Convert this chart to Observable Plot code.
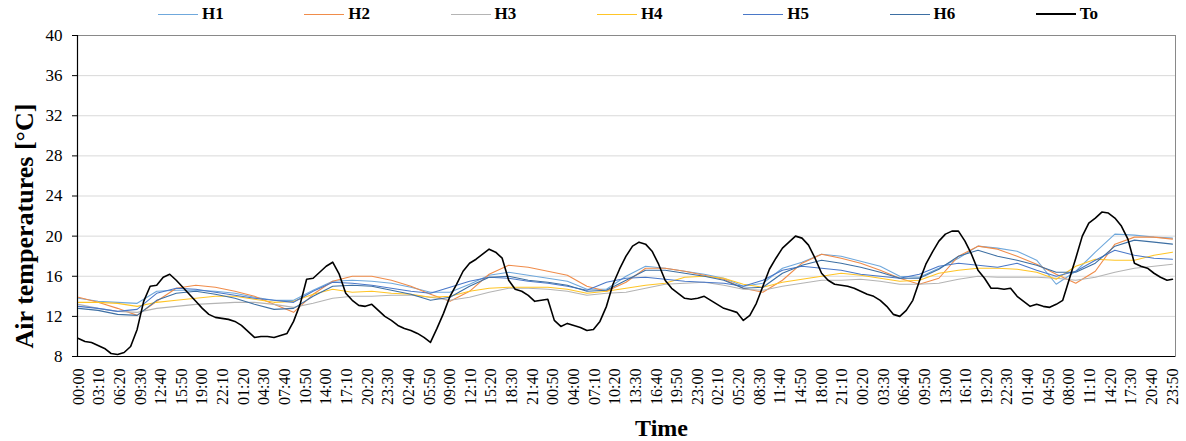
<!DOCTYPE html>
<html>
<head>
<meta charset="utf-8">
<script src="https://cdn.jsdelivr.net/npm/d3@7"></script>
<script src="https://cdn.jsdelivr.net/npm/@observablehq/plot@0.6"></script>
<style>
  html, body { margin: 0; padding: 0; background: #fff; }
  #wrap { width: 1186px; height: 441px; position: relative; font-family: "Liberation Serif", "Times New Roman", serif; }
  #legend { position: relative; height: 28px; width: 1186px; }
  .item { position: absolute; top: 0; height: 28px; display: flex; align-items: center; font-weight: bold; font-size: 17px; color: #000; }
  .item span.sw { display: inline-block; width: 40px; height: 0; margin-right: 4px; }
</style>
</head>
<body>
<div id="wrap">
  <div id="legend"></div>
  <div id="chart"></div>
</div>
<script>
// ---- data ----
const seriesNames = ["H1", "H2", "H3", "H4", "H5", "H6", "To"];
const seriesColors = ["#6FA8DC", "#F08C4A", "#B4B4B4", "#FFC526", "#4A78C8", "#3D6FA3", "#000000"];

const timeLabels = ["00:00","03:10","06:20","09:30","12:40","15:50","19:00","22:10","01:20","04:30","07:40","10:50","14:00","17:10","20:20","23:30","02:40","05:50","09:00","12:10","15:20","18:30","21:40","00:50","04:00","07:10","10:20","13:30","16:40","19:50","23:00","02:10","05:20","08:30","11:40","14:50","18:00","21:10","00:20","03:30","06:40","09:50","13:00","16:10","19:20","22:30","01:40","04:50","08:00","11:10","14:20","17:30","20:40","23:50"];

const yTicks = [8, 12, 16, 20, 24, 28, 32, 36, 40];

// Outdoor temperature, hourly readings (10-min samples, every 6th)
const To = [9.8,9.5,9.4,9.1,8.8,8.3,8.2,8.4,9.0,10.7,13.5,15.0,15.1,15.9,16.2,15.6,14.9,14.2,13.5,12.8,12.2,11.9,11.8,11.7,
11.5,11.1,10.5,9.9,10.0,10.0,9.9,10.1,10.3,11.5,13.2,15.7,15.8,16.4,17.0,17.4,16.2,14.3,13.6,13.1,13.0,13.2,12.6,12.0,
11.6,11.1,10.8,10.6,10.3,9.9,9.4,10.8,12.3,14.0,15.2,16.5,17.3,17.7,18.2,18.7,18.4,17.8,15.6,14.7,14.5,14.1,13.5,13.6,
13.7,11.6,11.0,11.3,11.1,10.9,10.6,10.7,11.5,13.0,15.2,16.7,18.0,19.0,19.4,19.2,18.5,17.2,15.6,14.8,14.3,13.8,13.7,13.8,
14.0,13.6,13.2,12.8,12.6,12.4,11.6,12.1,13.3,15.0,16.7,17.8,18.8,19.4,20.0,19.8,19.1,17.8,16.3,15.6,15.2,15.1,15.0,14.8,
14.5,14.2,14.0,13.6,13.0,12.2,12.0,12.6,13.6,15.5,17.2,18.4,19.5,20.2,20.5,20.5,19.5,18.2,16.6,15.8,14.8,14.8,14.7,14.8,
14.0,13.5,13.0,13.2,13.0,12.9,13.2,13.6,15.7,17.8,20.0,21.3,21.8,22.4,22.3,21.8,21.0,19.7,17.3,17.0,16.8,16.3,15.9,15.6,
15.7];

// Indoor series, 3-hourly readings (every 18th sample)
const H1 = [13.8,13.5,13.4,13.3,14.5,14.6,14.6,14.5,14.3,13.9,13.6,13.6,14.6,15.5,15.6,15.5,15.3,14.9,14.4,14.4,15.2,16.1,16.4,16.1,15.8,15.5,14.7,14.7,16.0,17.0,16.8,16.5,16.2,15.8,15.0,15.3,16.8,17.4,18.2,18.0,17.5,17.0,16.0,15.9,16.8,17.8,19.0,18.8,18.5,17.6,15.2,16.5,18.4,20.2,20.1,19.9,19.8];
const H2 = [13.9,13.4,12.8,12.1,13.5,14.8,15.1,14.9,14.5,14.0,13.2,12.4,14.2,15.5,16.0,16.0,15.6,15.0,14.2,13.5,14.5,16.2,17.1,16.9,16.5,16.1,15.0,14.5,15.4,16.8,16.8,16.5,16.1,15.7,14.8,14.4,15.6,17.3,18.2,17.8,17.3,16.6,15.8,15.2,15.8,18.0,19.0,18.7,18.0,17.2,16.2,15.3,16.5,19.2,19.9,19.9,19.7];
const H3 = [13.2,12.8,12.5,12.4,12.8,13.0,13.2,13.3,13.4,13.4,13.2,12.9,13.3,13.8,14.0,14.0,14.1,14.1,13.9,13.6,13.9,14.4,14.8,14.8,14.7,14.5,14.1,14.3,14.4,14.8,15.2,15.3,15.4,15.1,14.7,14.6,15.0,15.3,15.6,15.6,15.7,15.5,15.2,15.2,15.3,15.7,16.0,15.9,15.9,15.9,15.8,15.6,15.9,16.4,16.8,17.0,17.2];
const H4 = [13.4,13.4,13.3,13.0,13.4,13.6,13.8,14.0,14.0,13.7,13.4,13.5,14.2,14.7,14.4,14.5,14.3,14.2,13.9,14.0,14.5,14.8,14.9,14.9,14.9,14.7,14.3,14.5,14.8,15.1,15.3,15.9,16.0,15.8,15.2,14.9,15.4,15.7,16.0,16.3,16.1,15.8,15.5,15.6,16.3,16.6,16.8,16.8,16.7,16.4,15.7,17.0,17.7,17.6,17.6,18.1,18.4];
const H5 = [13.0,12.8,12.5,12.7,14.3,14.8,14.7,14.4,14.1,13.8,13.6,13.4,14.5,15.4,15.3,15.1,14.8,14.5,14.3,14.9,15.5,15.9,15.8,15.5,15.3,15.0,14.6,15.4,15.8,15.9,15.7,15.5,15.4,15.3,15.0,15.6,16.6,17.0,16.8,16.6,16.2,16.0,15.8,16.2,17.0,17.3,17.1,16.9,17.3,16.6,16.0,16.5,17.6,18.6,18.1,17.8,17.7];
const H6 = [12.8,12.6,12.2,12.1,13.6,14.3,14.5,14.2,13.8,13.2,12.7,12.8,14.0,15.0,15.1,15.0,14.6,14.2,13.6,13.9,15.0,15.9,16.0,15.6,15.4,15.1,14.5,14.6,15.6,16.6,16.6,16.3,16.0,15.6,14.8,14.9,16.3,17.1,17.6,17.3,16.9,16.4,15.8,15.8,16.7,18.0,18.6,18.0,17.6,17.1,16.4,16.4,17.3,19.0,19.6,19.4,19.2];

// ---- build table ----
const lastIndex = 1007;            // 7 days of 10-minute samples
const tickEvery = 19;
function toRows(name, values, step) {
  return values.map((v, k) => ({ s: name, i: Math.min(k * step, lastIndex), v }));
}
const seriesValues = [H1, H2, H3, H4, H5, H6];
const rows = seriesValues.map((vals, j) => toRows(seriesNames[j], vals, 18));
const toRowsData = toRows("To", To, 6);

// ---- legend ----
const legend = document.getElementById("legend");
seriesNames.forEach((n, j) => {
  const d = document.createElement("div");
  d.className = "item";
  d.style.left = (158 + j * 146.3) + "px";
  const sw = document.createElement("span");
  sw.className = "sw";
  sw.style.borderTop = (n === "To" ? "2px" : "1.5px") + " solid " + seriesColors[j];
  d.appendChild(sw);
  d.appendChild(document.createTextNode(n));
  legend.appendChild(d);
});

// ---- chart ----
const W = 1186, H = 413;
const xTicks = timeLabels.map((_, k) => k * tickEvery);
const marks = [
  Plot.ruleY(yTicks.slice(1, -1), { stroke: "#d9d9d9", strokeWidth: 1 }),
  Plot.frame({ stroke: "#898989", strokeWidth: 1 }),
  ...rows.map((r, j) => Plot.line(r, { x: "i", y: "v", stroke: seriesColors[j], strokeWidth: 1.1 })),
  Plot.line(toRowsData, { x: "i", y: "v", stroke: "#000", strokeWidth: 1.6 }),
  Plot.ruleY([8], { stroke: "#000", strokeWidth: 1.2 }),
  Plot.ruleX([-0.9], { stroke: "#000", strokeWidth: 1.2 }),
  Plot.axisY({ ticks: yTicks, tickSize: 5, tickPadding: 10, fontSize: 17, tickFormat: d => String(d), label: null }),
  Plot.axisX({ ticks: xTicks, tickSize: 0, tickPadding: 12, tickRotate: -90, fontSize: 16,
               tickFormat: d => timeLabels[Math.round(d / tickEvery)], label: null }),
  Plot.text(["Air temperatures [°C]"], { frameAnchor: "left", dx: -53, dy: 30, rotate: -90,
               fontSize: 26, fontWeight: "bold", fill: "#000", textAnchor: "middle", lineAnchor: "middle" }),
  Plot.text(["Time"], { frameAnchor: "bottom", dx: 35, dy: 72, fontSize: 24, fontWeight: "bold", fill: "#000",
               textAnchor: "middle", lineAnchor: "middle" })
];

const chart = Plot.plot({
  width: W, height: H,
  marginLeft: 77, marginRight: 11, marginTop: 7, marginBottom: 85,
  style: { fontFamily: "'Liberation Serif', 'Times New Roman', serif", color: "#000", background: "#fff", overflow: "visible" },
  x: { type: "linear", domain: [-0.9, 1009.8], axis: null },
  y: { domain: [8, 40], axis: null },
  marks
});
document.getElementById("chart").appendChild(chart);
</script>
</body>
</html>
